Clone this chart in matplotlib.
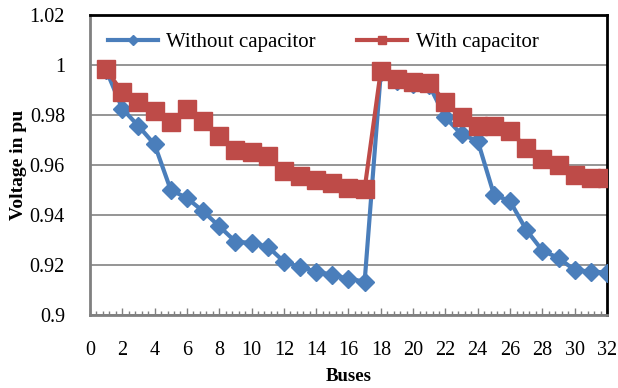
import matplotlib
matplotlib.use("Agg")
import matplotlib.pyplot as plt
from matplotlib.ticker import MultipleLocator

buses = list(range(1, 33))
without_cap = [0.998, 0.9825, 0.9756, 0.9682, 0.950, 0.9468, 0.9415, 0.9355,
               0.9294, 0.9288, 0.9274, 0.9214, 0.9191, 0.9174, 0.9161, 0.9145,
               0.9134, 0.997, 0.9935, 0.9925, 0.9918, 0.979, 0.9722, 0.9696,
               0.9482, 0.9455, 0.9341, 0.9258, 0.9228, 0.918, 0.9174, 0.917]
with_cap = [0.9983, 0.989, 0.9852, 0.9816, 0.977, 0.9823, 0.9776, 0.9716,
            0.966, 0.9652, 0.9636, 0.9575, 0.9555, 0.9542, 0.9529, 0.951,
            0.9505, 0.9977, 0.9943, 0.9932, 0.9926, 0.9852, 0.979, 0.9756,
            0.9756, 0.9736, 0.9669, 0.9622, 0.9598, 0.9562, 0.9549, 0.9549]

plt.rcParams["font.family"] = ["Liberation Serif", "DejaVu Serif"]

fig = plt.figure(figsize=(6.18, 3.88), dpi=100)
ax = fig.add_axes([0.1456, 0.188, 0.8366, 0.7735])

ax.plot(buses, without_cap, color="#4a7ebb", lw=3, marker="D", ms=9.5,
        label="Without capacitor", zorder=3)
ax.plot(buses, with_cap, color="#be4b48", lw=3, marker="s", ms=12.5,
        label="With capacitor", zorder=4)

ax.set_xlim(0, 32)
ax.set_ylim(0.9, 1.02)
ax.xaxis.set_major_locator(MultipleLocator(2))
ax.xaxis.set_minor_locator(MultipleLocator(0.4))
ax.set_yticks([0.9, 0.92, 0.94, 0.96, 0.98, 1.0, 1.02])
ax.set_yticklabels(["0.9", "0.92", "0.94", "0.96", "0.98", "1", "1.02"])

ax.grid(axis="y", color="#8c8c8c", lw=1.3)
ax.set_axisbelow(True)

ax.tick_params(axis="x", which="major", direction="in", length=5, width=1,
               color="#808080", labelsize=14.5, pad=19)
ax.tick_params(axis="x", which="minor", direction="in", length=3, width=1,
               color="#808080")
ax.tick_params(axis="y", length=0, labelsize=14.5, pad=18)

for s in ["left", "bottom"]:
    ax.spines[s].set_color("#808080")
    ax.spines[s].set_linewidth(2)
for s in ["top", "right"]:
    ax.spines[s].set_color("black")
    ax.spines[s].set_linewidth(2)

ax.set_xlabel("Buses", fontsize=13.5, fontweight="bold")
ax.xaxis.set_label_coords(0.5, -0.178)
ax.set_ylabel("Voltage in pu", fontsize=14, fontweight="bold")
ax.yaxis.set_label_coords(-0.122, 0.5)

ax.legend(loc="upper left", ncol=2, frameon=False, fontsize=15,
          handlelength=2.4, columnspacing=2.0, borderaxespad=0.45,
          handletextpad=0.4, markerscale=0.5, bbox_to_anchor=(0.0, 1.0))

fig.savefig("out.png", dpi=100)
